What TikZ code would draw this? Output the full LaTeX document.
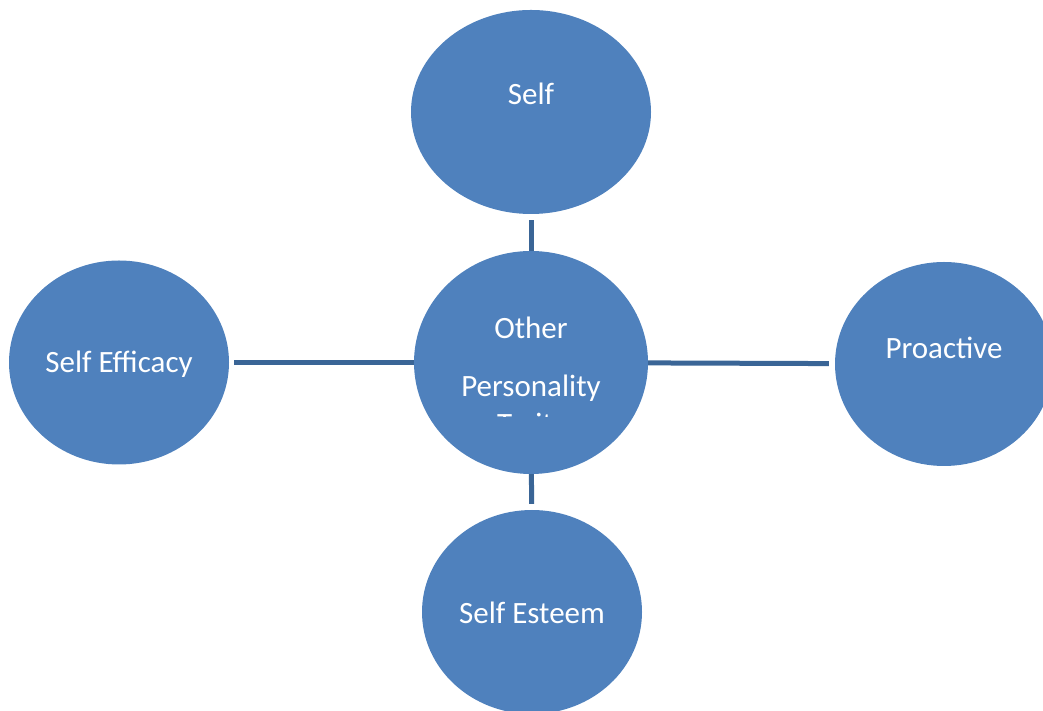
\documentclass[tikz,border=0pt]{standalone}
\usetikzlibrary{shapes.geometric}
\usepackage{fontspec}
\setmainfont{Carlito}
\definecolor{bubble}{HTML}{4F81BD}
\definecolor{link}{HTML}{3A6596}
\begin{document}
\begin{tikzpicture}[x=1pt,y=1pt,
  bub/.style={ellipse,fill=bubble,draw=none,inner sep=0pt},
  lbl/.style={anchor=base,text=white,font=\fontsize{31}{37}\selectfont,inner sep=0pt},
  conn/.style={draw=link,line width=5pt}]
\useasboundingbox (0,0) rectangle (1043,711);
\begin{scope}
\clip (0,0) rectangle (1043,711);
\node[bub,minimum width=240pt,minimum height=204pt] (self) at (531,599) {};
\node[bub,minimum width=234pt,minimum height=223pt] (center) at (531,348.5) {};
\node[bub,minimum width=220pt,minimum height=204pt] (eff) at (119,348.5) {};
\node[bub,minimum width=218pt,minimum height=204pt] (pro) at (944,347) {};
\node[bub,minimum width=220pt,minimum height=204pt] (est) at (532,99) {};
\end{scope}
\draw[conn,shorten <=6pt] (self) -- (center);
\draw[conn,shorten >=6pt] (center) -- (est);
\draw[conn,shorten <=5pt] (eff) -- (center);
\draw[conn,shorten >=6pt] (center) -- (pro);
\node[lbl] (tself) at (531,606) {Self};
\node[lbl] (tother) at (531,372) {Other};
\node[lbl] (tpers) at (531,314) {Personality};
\begin{scope}
\clip (400,294) rectangle (660,320);
\node[lbl] (ttraits) at (531,276) {Traits};
\end{scope}
\node[lbl] (tpro) at (944,352) {Proac\kern0pt tive};
\node[lbl] (teff) at (119,338) {Self Efficacy};
\node[lbl] (test) at (532,87) {Self Esteem};
\end{tikzpicture}
\end{document}
